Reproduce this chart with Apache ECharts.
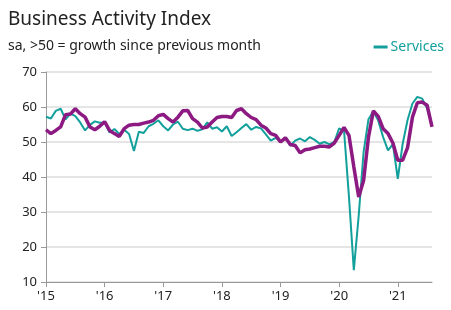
<!DOCTYPE html>
<html>
<head>
<meta charset="utf-8">
<script src="https://cdn.jsdelivr.net/npm/echarts@6/dist/echarts.min.js"></script>
<style>
  html, body { margin: 0; padding: 0; background: #fff; }
  #chart { width: 451px; height: 310px; }
</style>
</head>
<body>
<div id="chart"></div>
<script>
// monthly, Jan 2015 .. Aug 2021
const months = [];
for (let y = 2015; y <= 2021; y++) {
  for (let m = 1; m <= 12; m++) {
    if (y === 2021 && m > 8) break;
    months.push(y + '-' + (m < 10 ? '0' + m : m));
  }
}

const services = [
  57.2, 56.7, 58.9, 59.5, 56.5, 58.1, 57.4, 55.6, 53.3, 54.9, 55.9, 55.5,
  55.6, 52.7, 53.7, 52.3, 53.5, 52.3, 47.4, 52.9, 52.6, 54.5, 55.2, 56.2,
  54.5, 53.3, 55.0, 55.8, 53.8, 53.4, 53.8, 53.2, 53.6, 55.6, 53.8, 54.2,
  53.0, 54.5, 51.7, 52.8, 54.0, 55.1, 53.5, 54.3, 53.9, 52.2, 50.4, 51.2,
  50.1, 51.3, 48.9, 50.4, 51.0, 50.2, 51.4, 50.6, 49.5, 50.0, 49.3, 50.0,
  53.9, 53.2, 34.5, 13.4, 29.0, 47.1, 56.5, 58.8, 56.1, 51.4, 47.6, 49.4,
  39.5, 49.5, 56.3, 61.0, 62.9, 62.4, 59.6, 55.0
];

const composite = [
  53.5, 52.4, 53.3, 54.3, 57.8, 58.0, 59.5, 58.1, 57.1, 54.3, 53.5, 54.5,
  55.8, 53.3, 52.4, 51.6, 53.8, 54.8, 55.0, 55.0, 55.4, 55.7, 56.2, 57.5,
  57.9, 56.7, 55.7, 57.1, 58.9, 59.0, 56.7, 55.7, 54.0, 54.3, 55.7, 57.0,
  57.3, 57.3, 57.0, 59.0, 59.5, 58.1, 57.0, 56.4, 54.8, 54.0, 52.4, 51.9,
  50.0, 51.2, 49.3, 49.0, 46.9, 47.8, 48.0, 48.4, 48.8, 48.8, 48.6, 49.7,
  51.9, 54.2, 51.9, 42.9, 34.3, 39.0, 51.4, 58.9, 57.3, 53.8, 52.4, 49.7,
  44.8, 44.8, 48.4, 57.1, 61.2, 61.4, 60.5, 54.3
];

const yTicks = { min: 10, max: 70, step: 10 };

const TEAL = '#13a09c';
const PURPLE = '#8c1a82';
const FONT = '"Noto Sans", sans-serif';

const chart = echarts.init(document.getElementById('chart'));

chart.setOption({
  animation: false,
  textStyle: { fontFamily: FONT },
  title: {
    text: 'Business Activity Index',
    subtext: 'sa, >50 = growth since previous month',
    left: 3,
    top: 5,
    itemGap: 10,
    textStyle: { fontSize: 19, fontWeight: 'normal', color: '#222', fontFamily: FONT },
    subtextStyle: { fontSize: 14, color: '#222', fontFamily: FONT }
  },
  legend: {
    data: ['Services'],
    right: 2,
    top: 35,
    icon: 'rect',
    itemWidth: 14,
    itemHeight: 3,
    itemGap: 4,
    textStyle: { color: TEAL, fontSize: 14, fontFamily: FONT, padding: [0, 0, 0, -2] }
  },
  grid: { left: 46, right: 19, top: 72, bottom: 28 },
  xAxis: {
    type: 'category',
    data: months,
    boundaryGap: false,
    axisLine: { lineStyle: { color: '#999' } },
    axisTick: {
      alignWithLabel: true,
      interval: (i) => i % 12 === 0,
      length: 5,
      lineStyle: { color: '#999' }
    },
    axisLabel: {
      interval: (i) => i % 12 === 0,
      formatter: (v) => "'" + v.slice(2, 4),
      color: '#222',
      fontSize: 13,
      margin: 8
    },
    splitLine: { show: false }
  },
  yAxis: {
    type: 'value',
    min: yTicks.min,
    max: yTicks.max,
    interval: yTicks.step,
    axisLine: { show: true, lineStyle: { color: '#999' } },
    axisTick: { show: true, length: 5, lineStyle: { color: '#999' } },
    axisLabel: { color: '#222', fontSize: 13, margin: 9 },
    splitLine: { lineStyle: { color: '#ddd', width: 1.5 } }
  },
  series: [
    {
      name: 'Services',
      type: 'line',
      data: services,
      showSymbol: false,
      lineStyle: { color: TEAL, width: 2 },
      itemStyle: { color: TEAL },
      z: 2
    },
    {
      name: 'Composite',
      type: 'line',
      data: composite,
      showSymbol: false,
      lineStyle: { color: PURPLE, width: 3.5 },
      itemStyle: { color: PURPLE },
      z: 3
    }
  ]
});

window.addEventListener('resize', () => chart.resize());
</script>
</body>
</html>
